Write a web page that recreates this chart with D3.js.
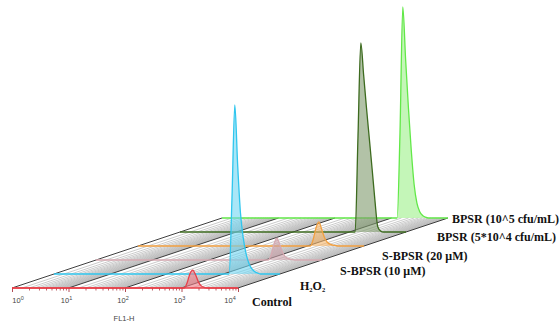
<!DOCTYPE html>
<html>
<head>
<meta charset="utf-8">
<script src="https://cdn.jsdelivr.net/npm/d3@7"></script>
<style>
body { margin: 0; background: #fff; }
svg { display: block; }
.lbl { font-family: "Liberation Serif", "Times New Roman", serif; font-weight: bold; font-size: 12px; fill: #111; }
.tlbl { font-family: "Liberation Sans", Arial, sans-serif; font-size: 7.5px; fill: #444; }
</style>
</head>
<body>
<svg id="chart" width="560" height="324"></svg>
<script>
// samples, front to back
const samples = ["Control", "H2O2", "S-BPSR (10 \u03bcM)", "S-BPSR (20 \u03bcM)", "BPSR (5*10^4 cfu/mL)", "BPSR (10^5 cfu/mL)"];
const lineColors = ["#e8404a", "#2fc6ee", "#d6aab2", "#f2a040", "#3d6b1f", "#62e848"];
const fillColors = ["#f07a84", "#6fd6f2", "#c9a0a8", "#f5b468", "#7f9a6c", "#9cf088"];

// FL1-H bins (log10) and counts
const logBins = [3.05, 3.1, 3.15, 3.2, 3.25, 3.3, 3.35, 3.4, 3.45, 3.5, 3.55, 3.6, 3.65];
const control   = [0, 25, 68, 85, 62, 28, 10, 3, 0, 0, 0, 0, 0];
const h2o2      = [0, 0, 360, 801, 520, 290, 170, 95, 50, 25, 12, 5, 0];
const sbpsr10   = [0, 25, 75, 104, 75, 38, 16, 8, 3, 1, 0, 0, 0];
const sbpsr20   = [0, 30, 85, 114, 80, 40, 18, 9, 4, 2, 0, 0, 0];
const bpsr5e4   = [0, 0, 450, 896, 745, 590, 445, 300, 150, 25, 5, 0, 0];
const bpsr1e5   = [0, 0, 400, 1000, 750, 520, 320, 160, 70, 30, 12, 4, 0];
const counts = [control, h2o2, sbpsr10, sbpsr20, bpsr5e4, bpsr1e5];

const decades = [1, 10, 100, 1000, 10000];
const minorSteps = [1.5, 2, 2.5, 3, 3.5, 4, 4.5, 5, 5.5, 6, 6.5, 7, 7.5, 8, 8.5, 9, 9.5];
const minorTicks = [2, 3, 4, 5, 6, 7, 8, 9];
const gridVals = [], tickVals = [];
for (const d of decades.slice(0, 4)) {
  minorSteps.forEach(m => gridVals.push(d * m));
  minorTicks.forEach(m => tickVals.push(d * m));
}

// layout
const origin = { x: 12, y: 288 };
const depth = { dx: 42, dy: -14 };
const svg = d3.select("#chart");

const x = d3.scaleLog().domain([1, 1e4]).range([0, 226]);
const y = d3.scaleLinear().domain([0, 1000]).range([0, 211]);
const z = d3.scaleLinear().domain([0, 1]).range([0, 1]);

function px(i, v) { return origin.x + x(v) + depth.dx * z(i); }
function py(i, c) { return origin.y + depth.dy * z(i) - y(c); }

// gray depth lines then black decade lines
const back = samples.length - 1;
svg.append("g").selectAll("line").data(gridVals).join("line")
  .attr("x1", d => px(0, d)).attr("y1", py(0, 0))
  .attr("x2", d => px(back, d)).attr("y2", py(back, 0))
  .attr("stroke", "#b4b4b4").attr("stroke-width", 0.7);
svg.append("g").selectAll("line").data(decades).join("line")
  .attr("x1", d => px(0, d)).attr("y1", py(0, 0))
  .attr("x2", d => px(back, d)).attr("y2", py(back, 0))
  .attr("stroke", "#2a2a2a").attr("stroke-width", 0.9);

// histograms, drawn back to front
const order = d3.range(samples.length).reverse();
order.forEach(i => {
  const pts = logBins.map((b, k) => [Math.pow(10, b), counts[i][k]]);
  const area = d3.area()
    .x(d => px(i, d[0]))
    .y0(py(i, 0))
    .y1(d => py(i, d[1]))
    .curve(d3.curveMonotoneX);
  const line = d3.line()
    .x(d => px(i, d[0]))
    .y(d => py(i, d[1]))
    .curve(d3.curveMonotoneX);
  const full = [[1, 0]].concat(pts, [[1e4, 0]]);
  const g = svg.append("g");
  g.append("path").attr("d", area(pts))
    .attr("fill", fillColors[i]).attr("fill-opacity", 0.6);
  g.append("path").attr("d", line(full))
    .attr("fill", "none").attr("stroke", lineColors[i]).attr("stroke-width", 1.3);
});

// axis under control
const axG = svg.append("g").attr("transform", `translate(${origin.x},${origin.y})`);
axG.call(d3.axisBottom(x).tickValues(tickVals).tickSize(2.5).tickFormat(""))
  .call(g => g.select(".domain").remove())
  .call(g => g.selectAll(".tick line").attr("stroke", "#a0202a").attr("stroke-width", 0.7));
const axM = svg.append("g").attr("transform", `translate(${origin.x},${origin.y})`);
axM.call(d3.axisBottom(x).tickValues(decades).tickSize(4).tickFormat(""))
  .call(g => g.select(".domain").remove())
  .call(g => g.selectAll(".tick line").attr("stroke", "#a0202a").attr("stroke-width", 0.8));
svg.append("line").attr("x1", px(0, 1)).attr("x2", px(0, 1e4))
  .attr("y1", py(0, 0)).attr("y2", py(0, 0))
  .attr("stroke", lineColors[0]).attr("stroke-width", 1.3);

decades.forEach((d, k) => {
  const cx = Math.min(Math.max(px(0, d), 20), 232);
  const t = svg.append("text").attr("class", "tlbl")
    .attr("x", cx - 2).attr("y", 303).attr("text-anchor", "middle");
  t.append("tspan").text("10");
  t.append("tspan").attr("dy", -3.5).attr("font-size", "5.5px").text(k);
});
svg.append("text").attr("class", "tlbl").attr("x", 124).attr("y", 321)
  .attr("text-anchor", "middle").attr("font-size", "8px").text("FL1-H");

// sample labels
const labelPos = [[252, 302], [300, 286], [340, 271], [382, 256], [437, 237], [452, 219]];
samples.forEach((s, i) => {
  const t = svg.append("text").attr("class", "lbl")
    .attr("x", labelPos[i][0]).attr("y", labelPos[i][1]).attr("dy", "0.35em");
  if (s === "H2O2") {
    t.append("tspan").text("H");
    t.append("tspan").attr("font-size", "6.5px").attr("dy", 2).text("2");
    t.append("tspan").attr("dy", -2).text("O");
    t.append("tspan").attr("font-size", "6.5px").attr("dy", 2).text("2");
  } else {
    t.text(s);
  }
});
</script>
</body>
</html>
